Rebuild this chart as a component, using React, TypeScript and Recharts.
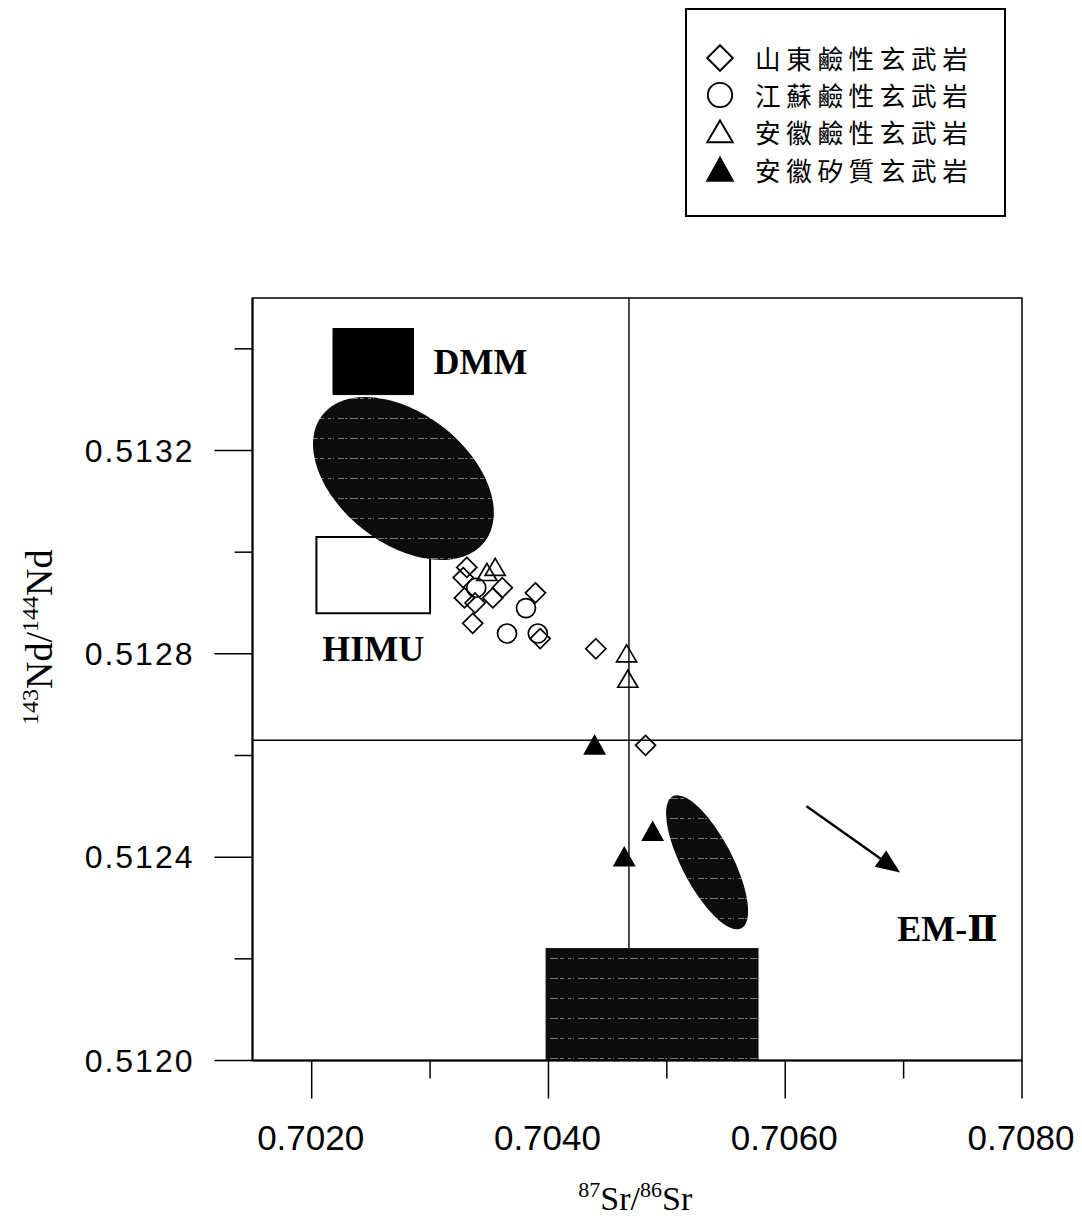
import React from "react";
import {
  ScatterChart,
  Scatter,
  XAxis,
  YAxis,
  ReferenceArea,
  ReferenceLine,
  ReferenceDot,
  Legend,
} from "recharts";

// 87Sr/86Sr and 143Nd/144Nd
const shandongSr = [0.70331, 0.70328, 0.70329, 0.70338, 0.70336, 0.70361, 0.70353, 0.70389, 0.70393, 0.7044, 0.70482];
const shandongNd = [0.51297, 0.51295, 0.51291, 0.5129, 0.51286, 0.51293, 0.51291, 0.51292, 0.51283, 0.51281, 0.51262];

const jiangsuSr = [0.70339, 0.70381, 0.70365, 0.70391];
const jiangsuNd = [0.51293, 0.51289, 0.51284, 0.51284];

const anhuiAlkSr = [0.70355, 0.70348, 0.70466, 0.70467];
const anhuiAlkNd = [0.51297, 0.51296, 0.5128, 0.51275];

const anhuiThSr = [0.70439, 0.70488, 0.70464];
const anhuiThNd = [0.51262, 0.51245, 0.5124];

// end-member fields
const dmmSr = [0.70218, 0.70286];
const dmmNd = [0.51331, 0.51344];
const himuSr = [0.70204, 0.703];
const himuNd = [0.51288, 0.51303];
const morbSr = [0.70209, 0.70346]; // major axis ends, upper-left -> lower-right
const morbNd = [0.51327, 0.51302];
const oibSr = [0.70505, 0.70563];
const oibNd = [0.51252, 0.51226];
const em1Sr = [0.70398, 0.70577];
const em1Nd = [0.512, 0.51222];
const em2ArrowSr = [0.70618, 0.70697];
const em2ArrowNd = [0.5125, 0.51237];
const em2LabelAt = [0.70737, 0.51226];

const bulkEarth = [0.70468, 0.51263];

const xDomain = [0.7015, 0.708];
const yDomain = [0.512, 0.5135];
const xMajor = [0.702, 0.704, 0.706, 0.708];
const xMinor = [0.703, 0.705, 0.707];
const yMajor = [0.512, 0.5124, 0.5128, 0.5132];
const yMinor = [0.5122, 0.5126, 0.513, 0.5134];

const toPts = (xs: number[], ys: number[]) => xs.map((x, i) => ({ x, y: ys[i] }));

const seriesList = [
  { name: "山東鹼性玄武岩", data: toPts(shandongSr, shandongNd), mark: "diamond" },
  { name: "江蘇鹼性玄武岩", data: toPts(jiangsuSr, jiangsuNd), mark: "circle" },
  { name: "安徽鹼性玄武岩", data: toPts(anhuiAlkSr, anhuiAlkNd), mark: "triangle" },
  { name: "安徽矽質玄武岩", data: toPts(anhuiThSr, anhuiThNd), mark: "triangleFilled" },
];

const isIn = (arr: number[], v: number) => arr.some((m) => Math.abs(m - v) < 1e-7);

function Mark({ kind, cx, cy, s = 1 }: { kind: string; cx: number; cy: number; s?: number }) {
  const sw = 1.7 * Math.sqrt(s);
  if (kind === "diamond") {
    const h = 10 * s;
    return (
      <polygon
        points={`${cx},${cy - h} ${cx + h},${cy} ${cx},${cy + h} ${cx - h},${cy}`}
        fill="none"
        stroke="#000"
        strokeWidth={sw}
      />
    );
  }
  if (kind === "circle") {
    return <circle cx={cx} cy={cy} r={9.5 * s} fill="none" stroke="#000" strokeWidth={sw} />;
  }
  const w = 10 * s;
  const up = kind === "triangleFilled" ? 9.5 * s : 9 * s;
  const dn = kind === "triangleFilled" ? 8.5 * s : 8 * s;
  return (
    <polygon
      points={`${cx},${cy - up} ${cx + w},${cy + dn} ${cx - w},${cy + dn}`}
      fill={kind === "triangleFilled" ? "#000" : "none"}
      stroke="#000"
      strokeWidth={sw}
    />
  );
}

function Texture({ id }: { id: string }) {
  return (
    <defs>
      <pattern id={id} patternUnits="userSpaceOnUse" width={40} height={20}>
        <rect width={40} height={20} fill="#0c0c0c" />
        <line
          x1={0}
          y1={10.5}
          x2={40}
          y2={10.5}
          stroke="#7a7a7a"
          strokeWidth={1}
          strokeDasharray="3 2 1 4 6 1 2 3 8 2 4 4"
        />
      </pattern>
    </defs>
  );
}

// ellipse whose major axis is the diagonal of the reference box
function TexturedEllipse(props: any) {
  const { x, y, width, height, ratio, id } = props;
  const cx = x + width / 2;
  const cy = y + height / 2;
  const a = Math.hypot(width, height) / 2;
  const b = a * ratio;
  const ang = Math.atan2(height, width);
  const deg = (ang * 180) / Math.PI;
  const p1x = cx - a * Math.cos(ang);
  const p1y = cy - a * Math.sin(ang);
  const p2x = cx + a * Math.cos(ang);
  const p2y = cy + a * Math.sin(ang);
  const d = `M ${p1x} ${p1y} A ${a} ${b} ${deg} 0 1 ${p2x} ${p2y} A ${a} ${b} ${deg} 0 1 ${p1x} ${p1y} Z`;
  return (
    <g>
      <Texture id={id} />
      <path d={d} fill={`url(#${id})`} />
    </g>
  );
}

function TexturedRect(props: any) {
  const { x, y, width, height, id } = props;
  return (
    <g>
      <Texture id={id} />
      <rect x={x} y={y} width={width} height={height} fill={`url(#${id})`} stroke="#000" strokeWidth={1} />
    </g>
  );
}

function Arrow(props: any) {
  const { x1, y1, x2, y2 } = props;
  const ang = Math.atan2(y2 - y1, x2 - x1);
  const len = 24;
  const half = 10;
  const bx = x2 - len * Math.cos(ang);
  const by = y2 - len * Math.sin(ang);
  const px = -Math.sin(ang) * half;
  const py = Math.cos(ang) * half;
  return (
    <g>
      <line x1={x1} y1={y1} x2={bx + 2 * Math.cos(ang)} y2={by + 2 * Math.sin(ang)} stroke="#000" strokeWidth={2.5} />
      <polygon points={`${x2},${y2} ${bx + px},${by + py} ${bx - px},${by - py}`} fill="#000" />
    </g>
  );
}

const XTick = (props: any) => {
  const { x, y, payload } = props;
  const v = payload.value;
  const major = isIn(xMajor, v);
  return (
    <g>
      <line x1={x} x2={x} y1={y} y2={y + (major ? 38 : 18)} stroke="#000" strokeWidth={1.5} />
      {major && (
        <text x={x - 1} y={y + 89} textAnchor="middle" fontFamily="Liberation Sans, Arial" fontSize={35} fill="#000">
          {v.toFixed(4)}
        </text>
      )}
    </g>
  );
};

const YTick = (props: any) => {
  const { x, y, payload } = props;
  const v = payload.value;
  const major = isIn(yMajor, v);
  return (
    <g>
      <line x1={x - (major ? 38 : 18)} x2={x} y1={y} y2={y} stroke="#000" strokeWidth={1.5} />
      {major && (
        <text
          x={x - 58}
          y={y + 11}
          textAnchor="end"
          fontFamily="Liberation Sans, Arial"
          fontSize={32}
          letterSpacing={2}
          fill="#000"
        >
          {v.toFixed(4)}
        </text>
      )}
    </g>
  );
};

const serif = "Liberation Serif, Times New Roman, serif";

const XTitle = ({ viewBox }: any) => (
  <text x={viewBox.x + viewBox.width / 2 - 2} y={viewBox.y + 149} textAnchor="middle" fontFamily={serif} fill="#000">
    <tspan fontSize={22} dy={-13}>87</tspan>
    <tspan fontSize={34} dy={13}>Sr/</tspan>
    <tspan fontSize={22} dy={-13}>86</tspan>
    <tspan fontSize={34} dy={13}>Sr</tspan>
  </text>
);

const YTitle = ({ viewBox }: any) => {
  const x = viewBox.x + 44;
  const y = viewBox.y + viewBox.height / 2 - 42;
  return (
    <text x={x} y={y} textAnchor="middle" fontFamily={serif} fill="#000" transform={`rotate(-90 ${x} ${y})`}>
      <tspan fontSize={24} dy={-14}>143</tspan>
      <tspan fontSize={38} dy={14}>Nd/</tspan>
      <tspan fontSize={24} dy={-14}>144</tspan>
      <tspan fontSize={38} dy={14}>Nd</tspan>
    </text>
  );
};

const LegendBox = () => (
  <div
    style={{
      boxSizing: "border-box",
      width: 321,
      height: 209,
      border: "2px solid #000",
      paddingTop: 29,
      background: "#fff",
    }}
  >
    {seriesList.map((s) => (
      <div key={s.name} style={{ display: "flex", alignItems: "center", height: 37.3 }}>
        <svg width={30} height={30} style={{ marginLeft: 18, flex: "none" }}>
          <Mark kind={s.mark} cx={15} cy={15} s={1.28} />
        </svg>
        <span
          style={{
            marginLeft: 20,
            fontFamily: "Noto Sans CJK TC",
            fontSize: 25.6,
            letterSpacing: 5.6,
            lineHeight: 1,
            color: "#000",
            whiteSpace: "nowrap",
          }}
        >
          {s.name}
        </span>
      </div>
    ))}
  </div>
);

const labelFont = { fill: "#000", fontSize: 36, fontWeight: "bold", fontFamily: serif };

export default function App() {
  return (
    <ScatterChart width={1074} height={1207} margin={{ top: 290, right: 60, bottom: 0, left: 0 }}>
      <XAxis
        type="number"
        dataKey="x"
        domain={xDomain}
        ticks={[...xMajor, ...xMinor].sort()}
        interval={0}
        allowDataOverflow
        height={154.5}
        tickSize={0}
        tickMargin={0}
        tickLine={false}
        tick={<XTick />}
        axisLine={{ stroke: "#000", strokeWidth: 2 }}
        label={{ content: (p: any) => <XTitle viewBox={p.viewBox} /> }}
      />
      <YAxis
        type="number"
        dataKey="y"
        domain={yDomain}
        ticks={[...yMajor, ...yMinor].sort()}
        interval={0}
        allowDataOverflow
        width={244.5}
        tickSize={0}
        tickMargin={0}
        tickLine={false}
        tick={<YTick />}
        axisLine={{ stroke: "#000", strokeWidth: 2 }}
        label={{ content: (p: any) => <YTitle viewBox={p.viewBox} /> }}
      />
      <Legend
        layout="vertical"
        align="center"
        verticalAlign="middle"
        content={() => <LegendBox />}
        wrapperStyle={{ top: 0, left: 677, width: 321, height: 209 }}
      />

      <ReferenceArea
        x1={xDomain[0]}
        x2={xDomain[1]}
        y1={yDomain[0]}
        y2={yDomain[1]}
        fill="none"
        stroke="#000"
        strokeWidth={1.5}
        ifOverflow="visible"
      />
      {/* bulk earth cross; the vertical stops where the EM-I field begins */}
      <ReferenceLine
        segment={[
          { x: bulkEarth[0], y: em1Nd[1] },
          { x: bulkEarth[0], y: yDomain[1] },
        ]}
        stroke="#000"
        strokeWidth={1.4}
      />
      <ReferenceLine y={bulkEarth[1]} stroke="#000" strokeWidth={1.4} />

      <ReferenceArea
        x1={dmmSr[0]}
        x2={dmmSr[1]}
        y1={dmmNd[0]}
        y2={dmmNd[1]}
        fill="#000"
        fillOpacity={1}
        stroke="#000"
        label={{ value: "DMM", position: "right", offset: 20, ...labelFont }}
      />
      <ReferenceArea
        x1={himuSr[0]}
        x2={himuSr[1]}
        y1={himuNd[0]}
        y2={himuNd[1]}
        fill="none"
        stroke="#000"
        strokeWidth={2}
        label={{ value: "HIMU", position: "bottom", offset: 22, ...labelFont }}
      />
      <ReferenceArea
        x1={morbSr[0]}
        x2={morbSr[1]}
        y1={morbNd[0]}
        y2={morbNd[1]}
        shape={(p: any) => <TexturedEllipse {...p} ratio={0.63} id="tex-morb" />}
      />
      <ReferenceArea
        x1={oibSr[0]}
        x2={oibSr[1]}
        y1={oibNd[0]}
        y2={oibNd[1]}
        shape={(p: any) => <TexturedEllipse {...p} ratio={0.34} id="tex-oib" />}
      />
      <ReferenceArea
        x1={em1Sr[0]}
        x2={em1Sr[1]}
        y1={em1Nd[0]}
        y2={em1Nd[1]}
        ifOverflow="visible"
        shape={(p: any) => <TexturedRect {...p} id="tex-em1" />}
      />
      <ReferenceLine
        segment={[
          { x: em2ArrowSr[0], y: em2ArrowNd[0] },
          { x: em2ArrowSr[1], y: em2ArrowNd[1] },
        ]}
        shape={(p: any) => <Arrow {...p} />}
      />
      <ReferenceDot
        x={em2LabelAt[0]}
        y={em2LabelAt[1]}
        r={0}
        fill="none"
        stroke="none"
        label={{
          value: "EM-Ⅱ",
          position: "center",
          ...labelFont,
          fontFamily: "Liberation Serif, DejaVu Serif, serif",
        }}
      />

      {seriesList.map((s) => (
        <Scatter
          key={s.name}
          name={s.name}
          data={s.data}
          isAnimationActive={false}
          shape={(p: any) => <Mark kind={s.mark} cx={p.cx} cy={p.cy} />}
        />
      ))}
    </ScatterChart>
  );
}
